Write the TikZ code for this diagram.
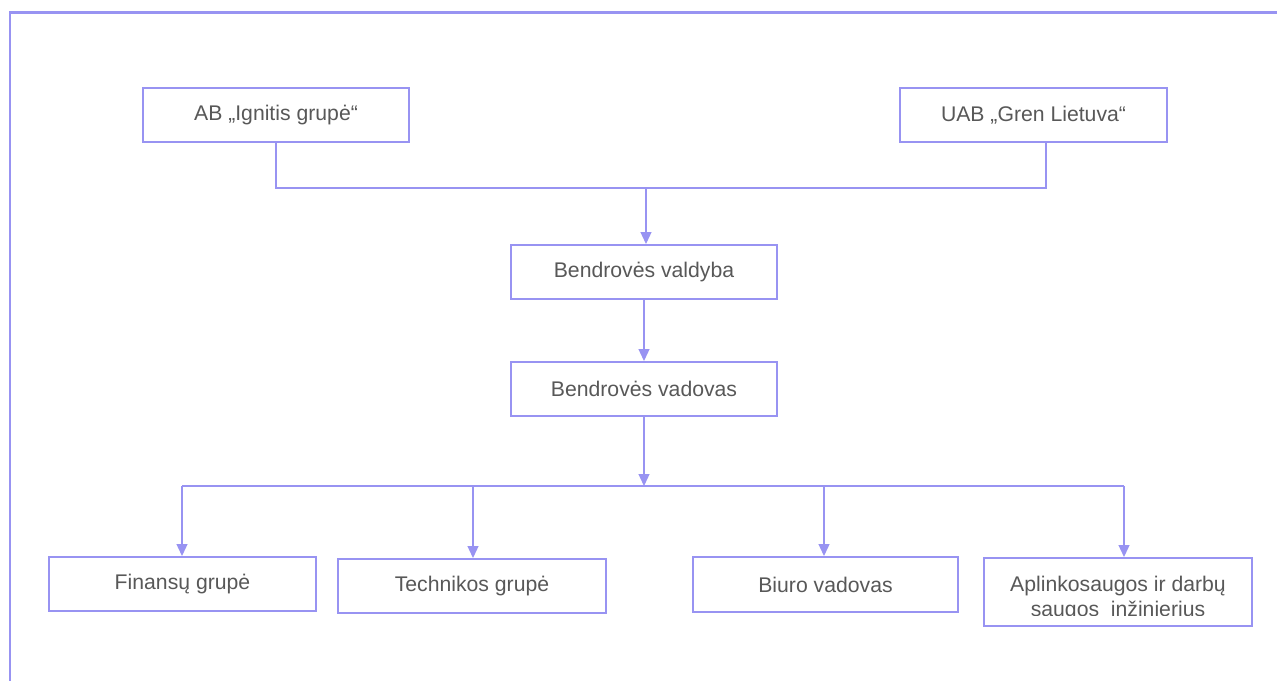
\documentclass[tikz,border=0pt]{standalone}
\usepackage{fontspec}
\setmainfont{Liberation Sans}
\usetikzlibrary{arrows.meta}
\definecolor{lav}{RGB}{152,147,242}
\definecolor{txt}{RGB}{88,88,88}
\tikzset{
  box/.style={draw=lav, line width=2pt, fill=white, minimum width=266pt, minimum height=54pt, inner sep=0pt, text=txt, font=\fontsize{21.2}{25}\selectfont, align=center},
  lbl/.style={text=txt, font=\fontsize{21.2}{25}\selectfont, inner sep=0pt},
  conn/.style={draw=lav, line width=1.3pt},
  arr/.style={conn, -{Triangle[length=12pt,width=11pt]}},
}
\begin{document}
\begin{tikzpicture}[x=1pt,y=-1pt]
\useasboundingbox (0,0) rectangle (1277,680);
\fill[white] (0,0) rectangle (1277,680);
\draw[lav, line width=2.2pt] (10,682) -- (10,12.5) -- (1279,12.5);

\node[box] (ign) at (276,115) {AB „Ignitis grupė“};
\node[box, minimum width=267pt] (uab) at (1033.5,115) {UAB „Gren Lietuva“};
\node[box] (vald) at (644,272) {Bendrovės valdyba};
\node[box] (vad) at (644,389) {Bendrovės vadovas};
\node[box, minimum width=267pt] (fin) at (182.5,584) {Finansų grupė};
\node[box, minimum width=268pt] (tech) at (472,586) {Technikos grupė};
\node[box, minimum width=265pt, minimum height=55pt] (biuro) at (825.5,584.5) {Biuro vadovas};
\node[box, minimum width=268pt, minimum height=68pt] (apl) at (1118,592) {};
\begin{scope}
\clip (984.8,558.8) rectangle (1251.2,615.5);
\node[lbl, anchor=base] (apl1) at (1118,591) {Aplinkosaugos ir darbų};
\node[lbl, anchor=base] (apl2) at (1118,616) {saugos\ \ inžinierius};
\end{scope}

\coordinate (jl) at (276,188);
\coordinate (jt) at (646,188);
\coordinate (jr) at (1046,188);
\draw[conn] (ign.south) -- (jl) -- (jr) -- (jr |- uab.south);
\draw[arr] (jt) -- (jt |- vald.north);
\draw[arr] (vald.south) -- (vad.north);

\coordinate (hb) at (644,486);
\coordinate (h1) at (182,486);
\coordinate (h2) at (473,486);
\coordinate (h3) at (824,486);
\coordinate (h4) at (1124,486);
\draw[arr] (vad.south) -- (hb);
\draw[conn] (h1) -- (h4);
\draw[arr] (h1) -- (h1 |- fin.north);
\draw[arr] (h2) -- (h2 |- tech.north);
\draw[arr] (h3) -- (h3 |- biuro.north);
\draw[arr] (h4) -- (h4 |- apl.north);
\end{tikzpicture}
\end{document}
